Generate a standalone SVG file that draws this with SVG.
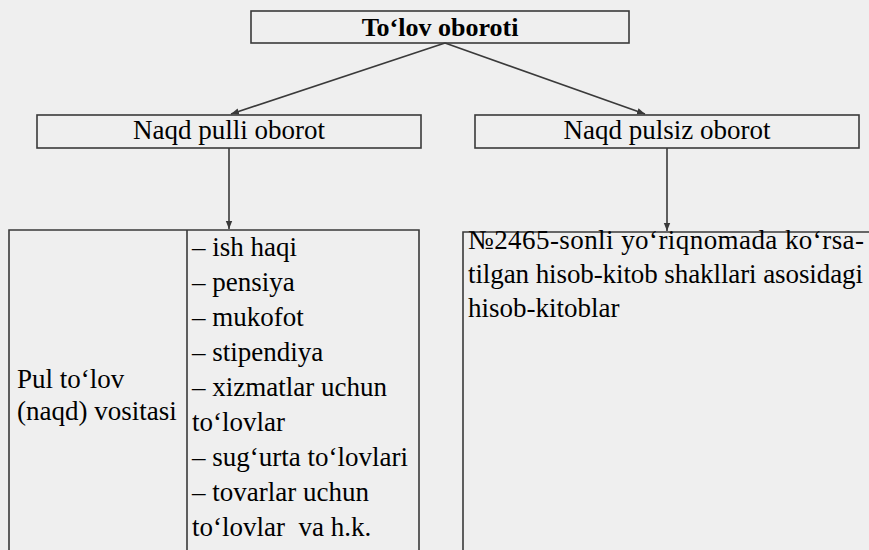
<svg xmlns="http://www.w3.org/2000/svg" width="869" height="550" viewBox="0 0 869 550">
  <style>
    .box { fill: none; stroke: #3a3a3a; stroke-width: 1.6; }
    .edge { fill: none; stroke: #3a3a3a; stroke-width: 1.6; }
  </style>
  <defs>
    <marker id="arr" viewBox="0 0 10 10" refX="10" refY="5" markerWidth="8" markerHeight="8" markerUnits="userSpaceOnUse" orient="auto">
      <path d="M0,1 L10,5 L0,9 Z" fill="#3a3a3a"/>
    </marker>
  </defs>
  <rect width="869" height="550" fill="#efefef"/>

  <g id="connectors">
    <line class="edge" x1="445" y1="43" x2="231" y2="114" marker-end="url(#arr)"/>
    <line class="edge" x1="445" y1="43" x2="645" y2="114" marker-end="url(#arr)"/>
    <line class="edge" x1="229" y1="148" x2="229" y2="229" marker-end="url(#arr)"/>
    <line class="edge" x1="667" y1="148" x2="667" y2="231" marker-end="url(#arr)"/>
  </g>

  <g id="node-tolov-oboroti">
    <rect class="box" x="251" y="11" width="378" height="32"/>
    <text x="440" y="36" font-family="Liberation Serif" font-size="26" font-weight="bold" fill="#000000" text-anchor="middle">To‘lov oboroti</text>
  </g>

  <g id="node-naqd-pulli">
    <rect class="box" x="37" y="115" width="384" height="33"/>
    <text x="229" y="139" font-family="Liberation Serif" font-size="27" fill="#000000" text-anchor="middle">Naqd pulli oborot</text>
  </g>

  <g id="node-naqd-pulsiz">
    <rect class="box" x="475" y="115" width="384" height="33"/>
    <text x="667" y="139" font-family="Liberation Serif" font-size="27" fill="#000000" text-anchor="middle">Naqd pulsiz oborot</text>
  </g>

  <g id="node-naqd-vositasi">
    <path class="box" d="M9,560 V230 H419 V560 M187,230 V560"/>
    <text x="17" y="388" font-family="Liberation Serif" font-size="27" fill="#000000">Pul to‘lov</text>
    <text x="17" y="420" font-family="Liberation Serif" font-size="27" fill="#000000">(naqd) vositasi</text>
    <text x="192" y="256" font-family="Liberation Serif" font-size="27" fill="#000000">– ish haqi</text>
    <text x="192" y="291" font-family="Liberation Serif" font-size="27" fill="#000000">– pensiya</text>
    <text x="192" y="326" font-family="Liberation Serif" font-size="27" fill="#000000">– mukofot</text>
    <text x="192" y="361" font-family="Liberation Serif" font-size="27" fill="#000000">– stipendiya</text>
    <text x="192" y="396" font-family="Liberation Serif" font-size="27" fill="#000000">– xizmatlar uchun</text>
    <text x="192" y="431" font-family="Liberation Serif" font-size="27" fill="#000000">to‘lovlar</text>
    <text x="192" y="466" font-family="Liberation Serif" font-size="27" fill="#000000">– sug‘urta to‘lovlari</text>
    <text x="192" y="501" font-family="Liberation Serif" font-size="27" fill="#000000">– tovarlar uchun</text>
    <text x="192" y="536" font-family="Liberation Serif" font-size="27" fill="#000000" xml:space="preserve">to‘lovlar  va h.k.</text>
  </g>

  <g id="node-naqd-pulsiz-hisob">
    <path class="box" d="M463,560 V232 H880"/>
    <text x="468" y="249" font-family="Liberation Serif" font-size="27" fill="#000000" textLength="396" lengthAdjust="spacing">№2465-sonli yo‘riqnomada ko‘rsa-</text>
    <text x="468" y="283" font-family="Liberation Serif" font-size="27" fill="#000000" textLength="395" lengthAdjust="spacing">tilgan hisob-kitob shakllari asosidagi</text>
    <text x="468" y="317" font-family="Liberation Serif" font-size="27" fill="#000000">hisob-kitoblar</text>
  </g>
</svg>
